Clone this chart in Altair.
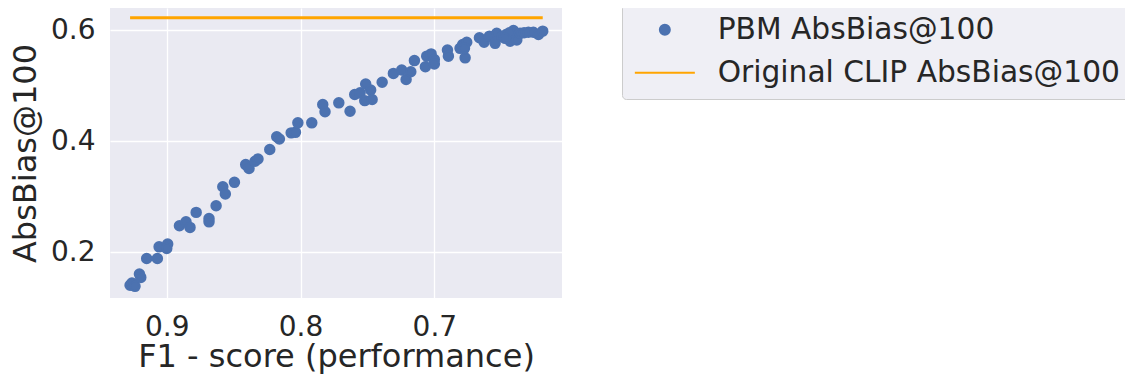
import altair as alt
import pandas as pd

# F1 score (x) and PBM AbsBias@100 (y)
f1_score = [
    0.9274, 0.9249, 0.9260, 0.9237, 0.9204, 0.9194, 0.9150, 0.9070, 0.9057, 0.8993,
    0.9000, 0.8905, 0.8856, 0.8826, 0.8780, 0.8684, 0.8684, 0.8631, 0.8581, 0.8562,
    0.8494, 0.8410, 0.8385, 0.8340, 0.8318, 0.8230, 0.8178, 0.8158, 0.8070, 0.8038,
    0.8020, 0.7916, 0.7834, 0.7817, 0.7714, 0.7630, 0.7595, 0.7555, 0.7513, 0.7476,
    0.7520, 0.7465, 0.7390, 0.7306, 0.7244, 0.7211, 0.7176, 0.7149, 0.7067, 0.7057,
    0.7024, 0.7000, 0.7000, 0.6902, 0.6895, 0.6808, 0.6788, 0.6758, 0.6770, 0.6775,
    0.6663, 0.6628, 0.6588, 0.6546, 0.6534, 0.6496, 0.6464, 0.6434, 0.6409, 0.6397,
    0.6384, 0.6359, 0.6329, 0.6297, 0.6260, 0.6222, 0.6190, 0.6439, 0.6471,
]
pbm_absbias = [
    0.141, 0.141, 0.145, 0.139, 0.161, 0.155, 0.189, 0.189, 0.210, 0.215,
    0.207, 0.248, 0.255, 0.245, 0.272, 0.261, 0.255, 0.284, 0.318, 0.305,
    0.326, 0.358, 0.351, 0.364, 0.368, 0.385, 0.408, 0.404, 0.415, 0.416,
    0.433, 0.433, 0.466, 0.453, 0.469, 0.454, 0.484, 0.487, 0.503, 0.492,
    0.473, 0.475, 0.506, 0.522, 0.528, 0.511, 0.525, 0.545, 0.534, 0.553,
    0.557, 0.547, 0.539, 0.564, 0.553, 0.567, 0.574, 0.578, 0.550, 0.567,
    0.586, 0.578, 0.589, 0.576, 0.594, 0.588, 0.592, 0.580, 0.599, 0.589,
    0.582, 0.594, 0.595, 0.596, 0.596, 0.592, 0.598, 0.595, 0.585,
]
clip_absbias = 0.622

series_names = ["PBM AbsBias@100", "Original CLIP AbsBias@100"]
series_colors = ["#4c72b0", "#ffa500"]
series_shapes = ["circle", "M-6,0H6"]
x_ticks = [0.9, 0.8, 0.7]
y_ticks = [0.2, 0.4, 0.6]

pts = pd.DataFrame({"f1": f1_score, "bias": pbm_absbias, "series": series_names[0]})
f_sorted = sorted(f1_score)
line_df = pd.DataFrame({"f1": f_sorted, "bias": [clip_absbias] * len(f_sorted),
                        "series": series_names[1]})

x_enc = alt.X("f1:Q", title="F1 - score (performance)",
              scale=alt.Scale(domain=[0.6046, 0.9424], reverse=True, nice=False, zero=False),
              axis=alt.Axis(values=x_ticks, format=".1f"))
y_enc = alt.Y("bias:Q", title="AbsBias@100",
              scale=alt.Scale(domain=[0.118, 0.6396], nice=False, zero=False),
              axis=alt.Axis(values=y_ticks, format=".1f"))

fill_scale = alt.Scale(domain=series_names, range=series_colors)
shape_scale = alt.Scale(domain=series_names, range=series_shapes)

points = alt.Chart(pts).mark_point(filled=True, size=90, opacity=1).encode(
    x=x_enc, y=y_enc,
    fill=alt.Fill("series:N", scale=fill_scale, title=None),
    stroke=alt.Stroke("series:N", scale=fill_scale, title=None),
    shape=alt.Shape("series:N", scale=shape_scale, title=None),
)

line = alt.Chart(line_df).mark_line(strokeWidth=3).encode(
    x=x_enc, y=y_enc,
    stroke=alt.Stroke("series:N", scale=fill_scale, title=None),
)

chart = alt.layer(line, points).properties(
    width=452, height=290,
    autosize=alt.AutoSizeParams(type="none"),
    padding={"left": 102, "top": 0, "right": 563, "bottom": 79},
).configure_view(
    fill="#eaeaf2", stroke=None,
).configure_axis(
    domain=False, ticks=False, tickSize=0,
    grid=True, gridColor="white", gridWidth=1.3,
    labelFont="DejaVu Sans", titleFont="DejaVu Sans",
    labelFontSize=28, titleFontSize=32,
    labelColor="#262626", titleColor="#262626",
    titleFontWeight="normal", labelPadding=15,
).configure_axisX(titlePadding=0).configure_axisY(titlePadding=8).configure_legend(
    orient="none", legendX=512, legendY=-4,
    labelFont="DejaVu Sans", labelFontSize=29.7, labelColor="#262626", labelLimit=600,
    symbolSize=100, symbolStrokeWidth=2, symbolOffset=17, labelOffset=38,
    padding=11, rowPadding=12,
    fillColor="#efeff5", strokeColor="#cccccc", cornerRadius=4,
)

chart.save("out.html", embed_options={"renderer": "svg", "actions": False})
